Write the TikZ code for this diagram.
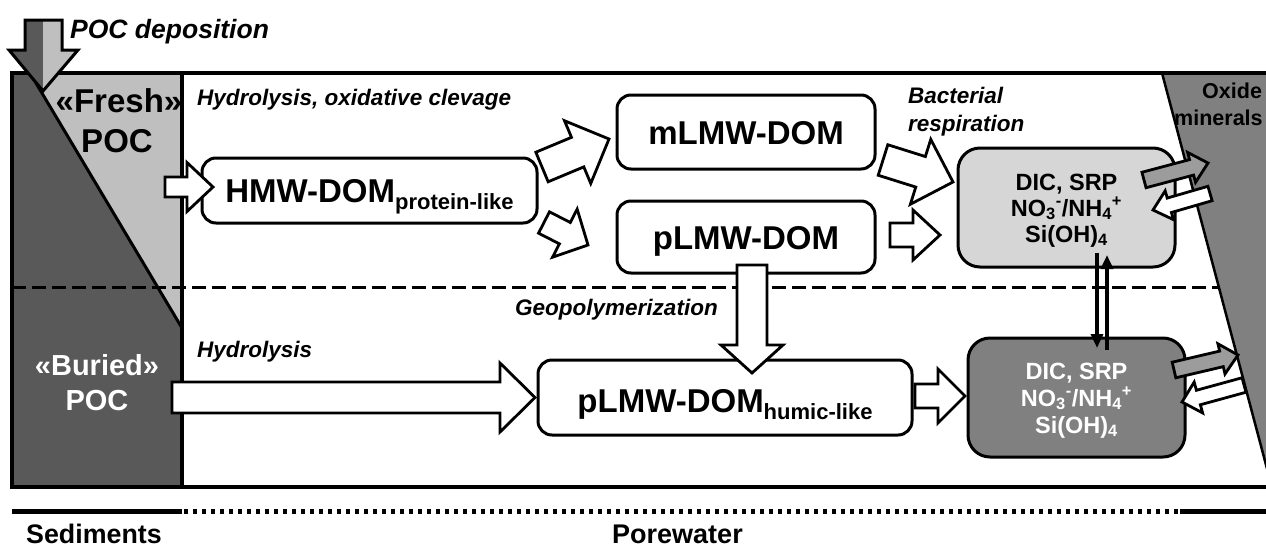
\documentclass[tikz,border=0pt]{standalone}
\usepackage{fontspec}
\setmainfont{Liberation Sans}
\usetikzlibrary{calc,arrows.meta}
\definecolor{freshgray}{HTML}{BFBFBF}
\definecolor{buriedgray}{HTML}{595959}
\definecolor{dicgray}{HTML}{D6D6D6}
\definecolor{oxgray}{HTML}{808080}
\definecolor{arrgray}{HTML}{9C9C9C}
\newcommand\fsz[2]{\fontsize{#1pt}{#2pt}\selectfont}
\newcommand\tightlines{\lineskiplimit=-50pt\relax}
\newcommand\blockarrow[6][white]{%
  \coordinate (ba-base) at ($(#3)!#6!(#2)$);
  \draw[blockline, fill=#1] ($(#2)!#4!90:(#3)$) -- ($(ba-base)!#4!90:(#3)$) -- ($(ba-base)!#5!90:(#3)$) -- (#3)
     -- ($(ba-base)!#5!-90:(#3)$) -- ($(ba-base)!#4!-90:(#3)$) -- ($(#2)!#4!-90:(#3)$) -- cycle;}
\tikzset{
  frameline/.style={line width=3.5pt},
  dombox/.style={draw, line width=3pt, rounded corners=14pt, fill=white, inner sep=0pt,
     font=\bfseries\fsz{33}{36}, text depth=0pt, text height=24pt},
  dicbox/.style={draw, line width=3pt, rounded corners=22pt, align=center, inner sep=0pt,
     minimum width=217pt, minimum height=119pt, text depth=0pt},
  blockline/.style={line width=2.8pt, line join=miter},
  proc/.style={font=\bfseries\itshape\fsz{22.5}{26}, inner sep=0pt, anchor=base west},
  bigpoc/.style={font=\bfseries\fsz{33}{36}, inner sep=0pt, anchor=base},
  layer/.style={font=\bfseries\fsz{26.8}{30}, inner sep=0pt, anchor=base west},
  exch/.style={line width=4pt, -{Triangle[width=12pt,length=14pt]}},
}
\begin{document}
\begin{tikzpicture}[x=1pt,y=-1pt]
\useasboundingbox (0,0) rectangle (1266,549);
\clip (0,0) rectangle (1266,549);

% sediment column
\fill[buriedgray] (12,73) -- (30,73) -- (182,328) -- (182,487) -- (12,487) -- cycle;
\fill[freshgray] (30,73) -- (182,73) -- (182,328) -- cycle;
% oxide minerals
\fill[oxgray] (1162,73) -- (1290,73) -- (1290,495) -- (1274,495) -- cycle;
\draw[line width=2.5pt] (1162,73) -- (1274,495);

% redox boundary
\draw[line width=3pt, dash pattern=on 14pt off 6pt] (12,287) -- (1219,287);

% frame
\draw[frameline] (1280,73) -- (12,73) -- (12,487) -- (1280,487);
\draw[frameline] (182,73) -- (182,487);
\draw[line width=3pt] (30,73) -- (182,328);

% boxes
\node[dombox, minimum width=335pt, minimum height=65pt] (hmw) at (369.5,190.5)
  {HMW-DOM{\fsz{22}{22}\raisebox{-7pt}{protein-like}}};
\node[dombox, minimum width=258pt, minimum height=74pt] (mlmw) at (746,132) {mLMW-DOM};
\node[dombox, minimum width=258pt, minimum height=72pt] (plmw) at (746,237) {pLMW-DOM};
\node[dombox, minimum width=374pt, minimum height=75pt, text height=30pt] (humic) at (725,397.5)
  {pLMW-DOM{\fsz{22}{22}\raisebox{-7pt}{humic-like}}};
\node[dicbox, fill=dicgray, text height=69pt, font=\bfseries\fsz{23.5}{26}\tightlines] (dic1) at (1066.5,207.5)
  {DIC, SRP\\NO\textsubscript{3}\textsuperscript{-}/NH\textsubscript{4}\textsuperscript{+}\\Si(OH)\textsubscript{4}};
\node[dicbox, fill=oxgray, text=white, text height=71pt, font=\bfseries\fsz{23.5}{27}\tightlines] (dic2) at (1076.5,397.5)
  {DIC, SRP\\NO\textsubscript{3}\textsuperscript{-}/NH\textsubscript{4}\textsuperscript{+}\\Si(OH)\textsubscript{4}};

% block arrows
\coordinate (a1t) at (165,187);   \coordinate (a1h) at (213,187);
\coordinate (a2t) at (542,167);   \coordinate (a2h) at (609,139);
\coordinate (a3t) at (544,222.5); \coordinate (a3h) at (588,245);
\coordinate (a4t) at (883,160);   \coordinate (a4h) at (953,182);
\coordinate (a5t) at (890,235);   \coordinate (a5h) at (940,235);
\coordinate (a6t) at (752,265);   \coordinate (a6h) at (752,373);
\coordinate (a7t) at (172,397.5); \coordinate (a7h) at (535,397.5);
\coordinate (a8t) at (915,396);   \coordinate (a8h) at (965,396);
\blockarrow{a1t}{a1h}{10pt}{24.5pt}{26pt}
\blockarrow{a2t}{a2h}{16pt}{34pt}{34pt}
\blockarrow{a3t}{a3h}{12pt}{27pt}{26pt}
\blockarrow{a4t}{a4h}{16pt}{34pt}{34pt}
\blockarrow{a5t}{a5h}{12pt}{25pt}{27pt}
\blockarrow{a6t}{a6h}{15pt}{31pt}{28pt}
\blockarrow{a7t}{a7h}{15.5pt}{34.5pt}{35pt}
\blockarrow{a8t}{a8h}{12pt}{27pt}{27pt}

% exchange with oxide minerals
\coordinate (g1t) at (1144,180);   \coordinate (g1h) at (1208,163);
\coordinate (w1t) at (1210,193.5); \coordinate (w1h) at (1153,210);
\coordinate (g2t) at (1174,370);   \coordinate (g2h) at (1238,355);
\coordinate (w2t) at (1244,385);   \coordinate (w2h) at (1182,402);
\blockarrow[arrgray]{g1t}{g1h}{8pt}{15.5pt}{17pt}
\blockarrow{w1t}{w1h}{7.5pt}{15pt}{17pt}
\blockarrow[arrgray]{g2t}{g2h}{8pt}{15.5pt}{17pt}
\blockarrow{w2t}{w2h}{7.5pt}{16pt}{17pt}

% vertical exchange between layers
\coordinate (v1a) at (1097,253); \coordinate (v1b) at (1097,348);
\coordinate (v2a) at (1107,350); \coordinate (v2b) at (1107,255);
\draw[exch] (v1a) -- (v1b);
\draw[exch] (v2a) -- (v2b);

% POC deposition arrow
\fill[buriedgray] (25,20) -- (43,20) -- (43,91) -- (9,50) -- (25,50) -- cycle;
\fill[freshgray] (43,20) -- (62,20) -- (62,50) -- (78,50) -- (43,91) -- cycle;
\draw[line width=3pt, line join=miter] (25,20) -- (62,20) -- (62,50) -- (78,50) -- (43,91) -- (9,50) -- (25,50) -- cycle;

% labels
\node[proc, font=\bfseries\itshape\fsz{26.5}{30}] (lpoc) at (70,38) {POC deposition};
\node[bigpoc] (lfresh) at (119,112) {«Fresh»};
\node[bigpoc] (lfreshpoc) at (117,152) {POC};
\node[bigpoc, text=white, font=\bfseries\fsz{29}{32}] (lburied) at (97,375) {«Buried»};
\node[bigpoc, text=white, font=\bfseries\fsz{29}{32}] (lburiedpoc) at (97,410) {POC};
\node[proc] (lhyd1) at (197,105) {Hydrolysis, oxidative clevage};
\node[proc] (lhyd2) at (197,357) {Hydrolysis};
\node[proc, font=\bfseries\itshape\fsz{22.5}{26}] (lgeo) at (515,315) {Geopolymerization};
\node[proc] (lbac) at (908,103) {Bacterial};
\node[proc] (lresp) at (908,131) {respiration};
\node[proc, font=\bfseries\fsz{21.5}{26}] (lox1) at (1202,98) {Oxide};
\node[proc, font=\bfseries\fsz{21.5}{26}] (lox2) at (1174,125) {minerals};

% bottom scale
\draw[line width=5pt] (12,511) -- (182,511);
\draw[line width=5pt, dash pattern=on 4pt off 5pt] (184,511) -- (1180,511);
\draw[line width=5pt] (1180,511) -- (1270,511);
\node[layer] (lsed) at (26,543) {Sediments};
\node[layer, font=\bfseries\fsz{27}{30}] (lpore) at (612,543) {Porewater};
\end{tikzpicture}
\end{document}
